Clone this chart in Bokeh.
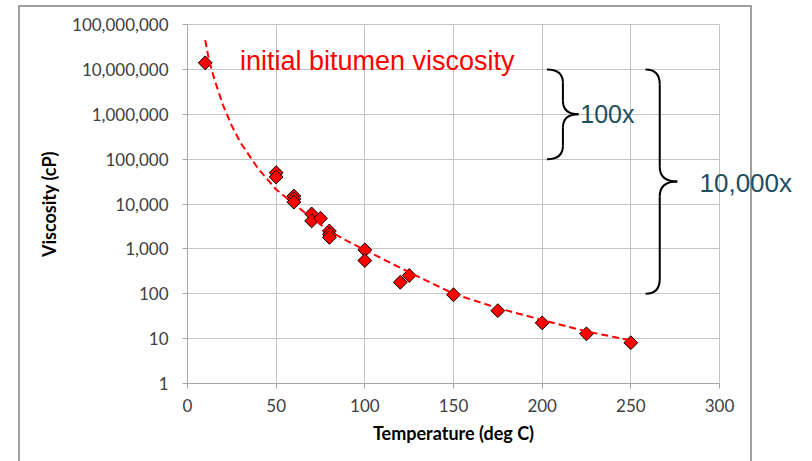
import numpy as np
from bokeh.plotting import figure
from bokeh.models import Label, LogAxis, FixedTicker, NumeralTickFormatter, ColumnDataSource
from bokeh.embed import file_html
from bokeh.resources import INLINE

# measured data
temperature = [10, 50, 50, 60, 60, 60, 70, 70, 75, 80, 80, 80, 100, 100, 120, 125, 150, 175, 200, 225, 250]
viscosity = [14000000, 50000, 40000, 15000, 13000, 11000, 6000, 4200, 4800, 2500, 2100, 1800,
             950, 550, 180, 255, 95, 42, 22.5, 12.8, 8.1]

# dashed trend line
fit_temperature = [10, 12, 15, 20, 25, 30, 40, 50, 60, 70, 80, 90, 100, 125, 150, 175, 200, 225, 250]
fit_viscosity = [45000000, 17000000, 6300000, 1600000, 550000, 230000, 60000, 21000, 10000, 4900,
                 2500, 1500, 950, 300, 100, 48, 26, 14.5, 9.1]

x_ticks = [0, 50, 100, 150, 200, 250, 300]
y_ticks = [1, 10, 100, 1000, 10000, 100000, 1000000, 10000000, 100000000]

TICK_FONT = "Lato"
ANN_FONT = "Liberation Sans"
border_col = "#A0A0A0"

p = figure(width=812, height=461, output_backend="svg", toolbar_location=None,
           x_range=(0, 300), y_range=(1, 100000000), y_axis_type="log",
           min_border_left=187, min_border_right=93, min_border_top=24, min_border_bottom=78,
           background_fill_color="white", border_fill_color=None)

# outer chart-area border (drawn as CSS background lines behind the transparent canvas)
g = f"linear-gradient({border_col}, {border_col})"
p.styles = {
    "background-color": "white",
    "background-image": f"{g}, {g}, {g}",
    "background-position": "18px 5px, 18px 5px, 750px 5px",
    "background-size": "2px 470px, 734px 2px, 2px 470px",
    "background-repeat": "no-repeat",
}

grid_col = "#C4C4C4"
axis_col = "#A6A6A6"
p.outline_line_color = grid_col
p.xgrid.ticker = FixedTicker(ticks=x_ticks)
p.ygrid.ticker = FixedTicker(ticks=y_ticks)
p.grid.grid_line_color = grid_col
p.grid.minor_grid_line_color = None

p.xaxis.ticker = FixedTicker(ticks=x_ticks)
p.yaxis.ticker = FixedTicker(ticks=y_ticks)
p.yaxis.formatter = NumeralTickFormatter(format="0,0")
for ax in (p.xaxis, p.yaxis):
    ax.axis_line_color = axis_col
    ax.major_tick_line_color = axis_col
    ax.minor_tick_line_color = None
    ax.major_tick_in = 0
    ax.major_tick_out = 5
    ax.major_label_text_font = TICK_FONT
    ax.major_label_text_font_size = "17px"
    ax.major_label_text_color = "#404040"
    ax.axis_label_text_font = TICK_FONT
    ax.axis_label_text_font_style = "bold"
    ax.axis_label_text_font_size = "18px"
    ax.axis_label_text_color = "#000000"
p.xaxis.major_label_standoff = 10
p.yaxis.major_label_standoff = 14
p.xaxis.axis_label = "Temperature (deg C)"
p.yaxis.axis_label = "Viscosity (cP)"
p.xaxis.axis_label_standoff = 7
p.yaxis.axis_label_standoff = 9

src = ColumnDataSource(dict(x=temperature, y=viscosity))
p.scatter("x", "y", source=src, marker="square", angle=np.pi / 4, size=9.8,
          fill_color="#FF0000", line_color="black", line_width=1)

p.line(fit_temperature, fit_viscosity, line_color="#FF0000", line_width=2, line_dash="7 4")

# braces
def brace(x_tip, x_bar, x_mid, log_top, log_bot, r):
    log_mid = (log_top + log_bot) / 2
    q = dict(x0=[], y0=[], x1=[], y1=[], cx=[], cy=[])
    def add(a, b, c):
        q["x0"].append(a[0]); q["y0"].append(10 ** a[1])
        q["x1"].append(b[0]); q["y1"].append(10 ** b[1])
        q["cx"].append(c[0]); q["cy"].append(10 ** c[1])
    add((x_tip, log_top), (x_bar, log_top - r), (x_bar, log_top))
    add((x_bar, log_mid + r), (x_mid, log_mid), (x_bar, log_mid))
    add((x_mid, log_mid), (x_bar, log_mid - r), (x_bar, log_mid))
    add((x_bar, log_bot + r), (x_tip, log_bot), (x_bar, log_bot))
    p.quadratic(x0="x0", y0="y0", x1="x1", y1="y1", cx="cx", cy="cy",
                source=ColumnDataSource(q), line_color="black", line_width=2)
    p.segment(x0=[x_bar, x_bar], y0=[10 ** (log_top - r), 10 ** (log_mid - r)],
              x1=[x_bar, x_bar], y1=[10 ** (log_mid + r), 10 ** (log_bot + r)],
              line_color="black", line_width=2)

brace(202.7, 211.7, 220.5, 7.0, 5.0, 0.3)
brace(258.3, 266.3, 276.2, 7.0, 2.0, 0.33)

teal = "#1F4E5E"
p.add_layout(Label(x=107, y=15000000, text="initial bitumen viscosity", text_color="#FF0000",
                   text_font=ANN_FONT, text_font_size="27px", text_align="center",
                   text_baseline="middle"))
p.add_layout(Label(x=221.5, y=1000000, text="100x", text_color=teal,
                   text_font=ANN_FONT, text_font_size="25px", text_align="left",
                   text_baseline="middle"))

# "10,000x" sits partly outside the plot frame: drawn as the label of a bare right-hand axis
big_label_pos = 30000
note_axis = LogAxis(ticker=FixedTicker(ticks=[big_label_pos]),
                    major_label_overrides={big_label_pos: "10,000x"},
                    axis_line_color=None, major_tick_line_color=None, minor_tick_line_color=None,
                    major_tick_in=0, major_tick_out=0, major_label_standoff=-20,
                    major_label_text_font=ANN_FONT, major_label_text_font_size="26px",
                    major_label_text_color=teal)
p.add_layout(note_axis, "right")

open("out.html", "w").write(file_html(p, INLINE))
